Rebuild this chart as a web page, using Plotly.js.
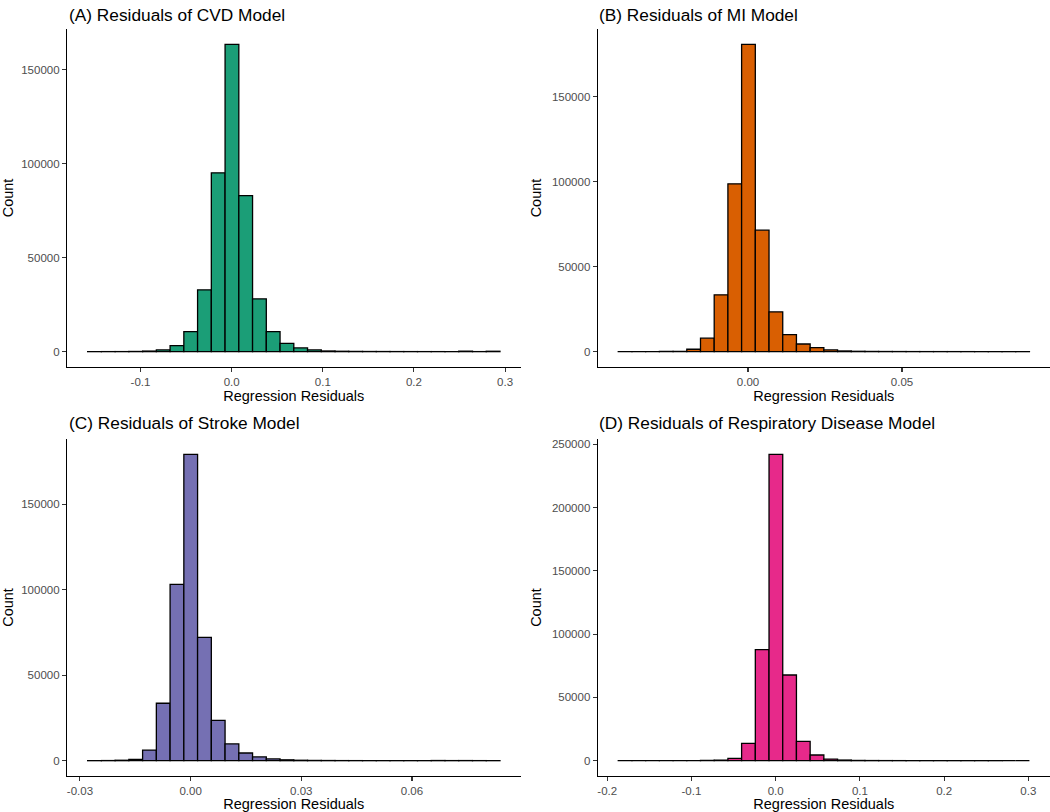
<!DOCTYPE html>
<html>
<head>
<meta charset="utf-8">
<script src="https://cdn.plot.ly/plotly-3.0.1.min.js"></script>
<style>html,body{margin:0;padding:0;background:#fff;}#chart{width:1050px;height:812px;}</style>
</head>
<body>
<div id="chart"></div>
<script>
// Panel titles
const panelTitles = ["(A) Residuals of CVD Model", "(B) Residuals of MI Model",
  "(C) Residuals of Stroke Model", "(D) Residuals of Respiratory Disease Model"];
const fillColors = ["#1b9e77", "#d95f02", "#7570b3", "#e7298a"];

// Histogram bins: first bin left edge and bin width (30 bins each)
const binStarts = [-0.158, -0.04211, -0.02792, -0.1869];
const binWidths = [0.01508, 0.004449, 0.003726, 0.016273];

// Counts per bin
const cvdCounts = [10, 20, 30, 100, 300, 900, 3200, 10700, 32900, 95200, 163600, 83100, 28100, 10700, 4450,
  1960, 900, 350, 200, 120, 80, 60, 40, 30, 20, 15, 10, 250, 20, 200];
const miCounts = [20, 30, 60, 100, 200, 1400, 7900, 33400, 98700, 180700, 71400, 23400, 10000, 4500, 2400,
  1000, 400, 200, 120, 80, 60, 40, 30, 25, 20, 15, 10, 10, 8, 5];
const strokeCounts = [30, 80, 250, 780, 6200, 33600, 103200, 179300, 72200, 23600, 9800, 4500, 2200, 1000, 500,
  250, 150, 100, 60, 40, 30, 25, 20, 15, 12, 100, 60, 80, 40, 30];
const respCounts = [10, 20, 20, 30, 50, 80, 150, 400, 1800, 13700, 87700, 242000, 67700, 15300, 4500,
  1300, 500, 200, 120, 80, 60, 40, 30, 20, 15, 10, 10, 8, 5, 5];
const allCounts = [cvdCounts, miCounts, strokeCounts, respCounts];

// Tick values and labels
const xTickVals = [[-0.1, 0, 0.1, 0.2, 0.3], [0, 0.05], [-0.03, 0, 0.03, 0.06], [-0.2, -0.1, 0, 0.1, 0.2, 0.3]];
const xTickText = [["-0.1", "0.0", "0.1", "0.2", "0.3"], ["0.00", "0.05"], ["-0.03", "0.00", "0.03", "0.06"],
  ["-0.2", "-0.1", "0.0", "0.1", "0.2", "0.3"]];
const yTickVals = [[0, 50000, 100000, 150000], [0, 50000, 100000, 150000], [0, 50000, 100000, 150000],
  [0, 50000, 100000, 150000, 200000, 250000]];
const xTitle = "Regression Residuals";
const yTitle = "Count";

const W = 1050, H = 812;
const xDom = [[67 / W, 520.6 / W], [597.7 / W, 1], [67 / W, 520.6 / W], [597.7 / W, 1]];
const yDom = [[(H - 367) / H, (H - 29) / H], [(H - 367) / H, (H - 29) / H],
  [(H - 776) / H, (H - 439) / H], [(H - 776) / H, (H - 439) / H]];
const titlePos = [[67, 15], [597, 15], [67, 423], [597, 423]];

const font = "Liberation Sans, Arial, sans-serif";
const traces = [];
const layout = {
  width: W, height: H,
  margin: {l: 0, r: 0, t: 0, b: 0},
  paper_bgcolor: "#fff", plot_bgcolor: "#fff",
  showlegend: false,
  font: {family: font},
  annotations: []
};

for (let p = 0; p < 4; p++) {
  const counts = allCounts[p];
  const n = counts.length;
  const w = binWidths[p], s = binStarts[p];
  const centers = counts.map((_, i) => s + w * (i + 0.5));
  const sfx = p === 0 ? "" : String(p + 1);
  traces.push({
    type: "bar", x: centers, y: counts, width: w,
    xaxis: "x" + sfx, yaxis: "y" + sfx,
    marker: {color: fillColors[p], line: {color: "#000", width: 1.3}},
    hoverinfo: "x+y"
  });
  const span = n * w;
  const maxC = Math.max(...counts);
  layout["xaxis" + sfx] = {
    domain: xDom[p], anchor: "y" + sfx,
    range: [s - 0.05 * span, s + span + 0.05 * span],
    showgrid: false, zeroline: false,
    showline: true, linecolor: "#000", linewidth: 1.1,
    ticks: "outside", ticklen: 4, tickwidth: 1.1, tickcolor: "#333",
    tickvals: xTickVals[p], ticktext: xTickText[p],
    tickfont: {family: font, size: 11.5, color: "#4d4d4d"},
    title: {text: xTitle, font: {family: font, size: 14.5, color: "#000"}, standoff: 1}
  };
  layout["yaxis" + sfx] = {
    domain: yDom[p], anchor: "x" + sfx,
    range: [-0.05 * maxC, 1.05 * maxC],
    showgrid: false, zeroline: false,
    showline: true, linecolor: "#000", linewidth: 1.1,
    ticks: "outside", ticklen: 4, tickwidth: 1.1, tickcolor: "#333",
    tickvals: yTickVals[p], ticktext: yTickVals[p].map(String),
    tickfont: {family: font, size: 11.5, color: "#4d4d4d"},
    title: {text: yTitle, font: {family: font, size: 14.5, color: "#000"}, standoff: 6}
  };
  layout.annotations.push({
    text: panelTitles[p], xref: "paper", yref: "paper",
    x: titlePos[p][0] / W, y: 1 - titlePos[p][1] / H,
    xanchor: "left", yanchor: "middle", showarrow: false,
    font: {family: font, size: 17.3, color: "#000"}
  });
}

Plotly.newPlot("chart", traces, layout, {displayModeBar: false, staticPlot: true});
</script>
</body>
</html>
